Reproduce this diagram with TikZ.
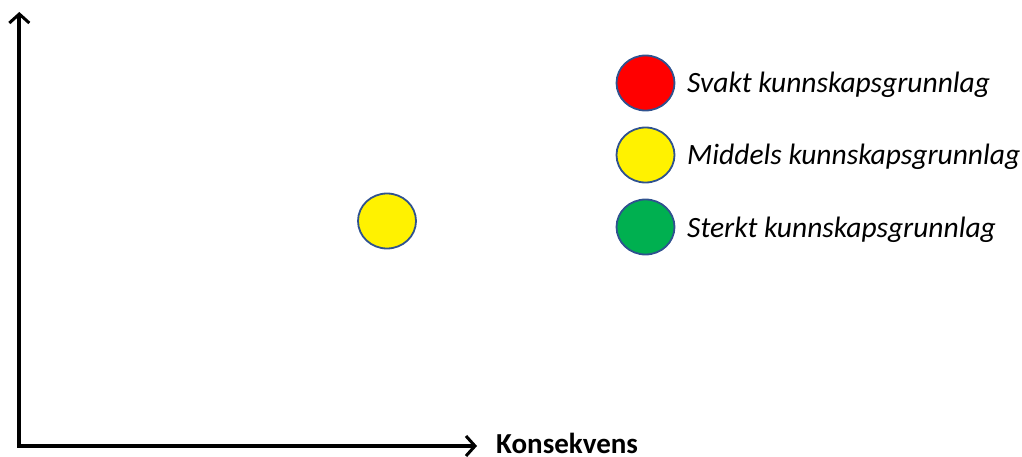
\documentclass[tikz,border=0pt]{standalone}
\usepackage{fontspec}
\setmainfont{Carlito}
\usetikzlibrary{arrows.meta,shapes.geometric}
\definecolor{rimblue}{RGB}{47,82,143}
\definecolor{mygreen}{RGB}{0,176,80}
\tikzset{
  axis/.style={line width=4pt, line join=miter,
    {Straight Barb[length=9pt,width=20pt,line width=3pt]}-{Straight Barb[length=9pt,width=20pt,line width=3pt]}},
  dot/.style={ellipse, draw=rimblue, line width=1.8pt, minimum width=58pt, minimum height=55pt, inner sep=0pt},
  legtext/.style={anchor=base west, font=\fontsize{29.5}{34}\selectfont\itshape, inner sep=0pt}
}
\begin{document}
\begin{tikzpicture}[x=1pt,y=-1pt]
\useasboundingbox (0,0) rectangle (1022,457);
\coordinate (origin) at (19.3,446);
\coordinate (ytop) at (19.3,12);
\coordinate (xend) at (477,446);
\draw[axis] (ytop) -- (origin) -- (xend);
\node[anchor=base west, font=\fontsize{29}{34}\selectfont\bfseries, inner sep=0pt] (xlab) at (496,453) {Konsekvens};
\node[dot, fill=yellow] (pt) at (387,221) {};
\node[dot, fill=red] (lr) at (645.5,83) {};
\node[dot, fill=yellow] (ly) at (645.5,155) {};
\node[dot, fill=mygreen] (lg) at (645.5,227) {};
\node[legtext] (tr) at (687,93) {Svakt kunnskapsgrunnlag};
\node[legtext] (ty) at (687,165) {Middels kunnskapsgrunnlag};
\node[legtext] (tg) at (687,237) {Sterkt kunnskapsgrunnlag};
\end{tikzpicture}
\end{document}
